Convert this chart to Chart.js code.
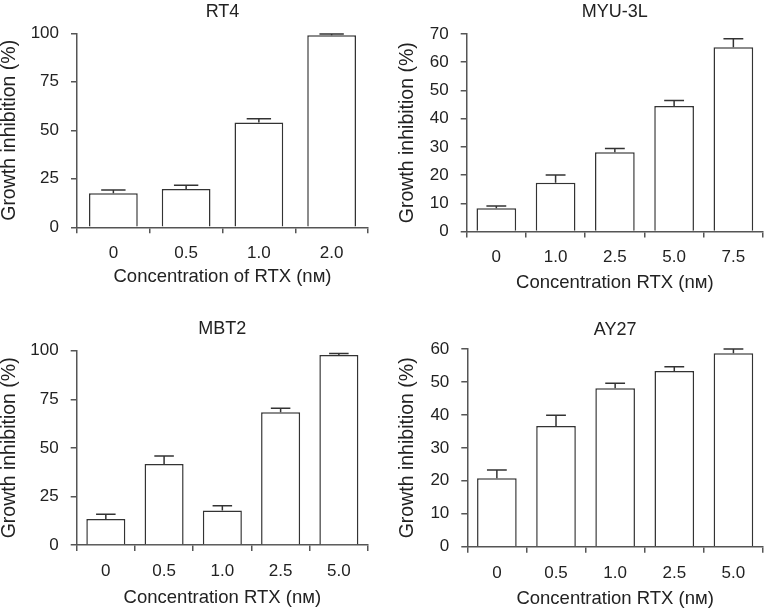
<!DOCTYPE html>
<html>
<head>
<meta charset="utf-8">
<script src="https://cdn.jsdelivr.net/npm/chart.js@4"></script>
<style>
  body { margin: 0; background: #fff; }
  #wrap { position: relative; width: 765px; height: 609px; overflow: hidden; }
  .panel { position: absolute; }
</style>
</head>
<body>
<div id="wrap">
  <div class="panel" style="left:0px;top:0px"><canvas id="c1" width="380" height="300"></canvas></div>
  <div class="panel" style="left:390px;top:0px"><canvas id="c2" width="375" height="300"></canvas></div>
  <div class="panel" style="left:0px;top:300px"><canvas id="c3" width="380" height="309"></canvas></div>
  <div class="panel" style="left:390px;top:300px"><canvas id="c4" width="375" height="309"></canvas></div>
</div>
<script>
// RT4
const rt4Labels = ['0', '0.5', '1.0', '2.0'];
const rt4Values = [17.5, 19.8, 54.0, 99.0];
const rt4Errors = [1.7, 1.9, 2.0, 0.6];

// MYU-3L
const myuLabels = ['0', '1.0', '2.5', '5.0', '7.5'];
const myuValues = [8.2, 17.3, 28.1, 44.5, 65.3];
const myuErrors = [0.8, 2.7, 1.3, 1.9, 3.0];

// MBT2
const mbtLabels = ['0', '0.5', '1.0', '2.5', '5.0'];
const mbtValues = [13.4, 41.7, 17.7, 68.3, 97.8];
const mbtErrors = [2.4, 4.1, 2.5, 2.1, 0.7];

// AY27
const ayLabels = ['0', '0.5', '1.0', '2.5', '5.0'];
const ayValues = [20.8, 36.6, 48.1, 53.3, 58.7];
const ayErrors = [2.5, 3.3, 1.5, 1.3, 1.3];

const yTitle = 'Growth inhibition (%)';
const FONT = "'Liberation Sans', Arial, Helvetica, sans-serif";
const INK = '#333';
const AXIS = '#555';

// upward-only error bars with a cap half as wide as the bar
const errorBars = {
    id: 'errorBars',
    afterDatasetsDraw(chart) {
        const ctx = chart.ctx;
        const yScale = chart.scales.y;
        const ds = chart.data.datasets[0];
        const meta = chart.getDatasetMeta(0);
        ctx.save();
        ctx.strokeStyle = INK;
        ctx.lineWidth = 1.5;
        meta.data.forEach((bar, i) => {
            const err = ds.errors[i];
            if (!err) return;
            const yTop = yScale.getPixelForValue(ds.data[i] + err);
            const half = bar.width / 4;
            ctx.beginPath();
            ctx.moveTo(bar.x, bar.y);
            ctx.lineTo(bar.x, yTop);
            ctx.moveTo(bar.x - half, yTop);
            ctx.lineTo(bar.x + half, yTop);
            ctx.stroke();
        });
        ctx.restore();
    }
};

function makePanel(id, title, labels, values, errors, yMax, yStep, xTitle, lay) {
    return new Chart(document.getElementById(id), {
        type: 'bar',
        data: {
            labels: labels,
            datasets: [{
                data: values,
                errors: errors,
                backgroundColor: '#fff',
                borderColor: INK,
                borderWidth: 1.5,
                barPercentage: 0.67,
                categoryPercentage: 1
            }]
        },
        options: {
            responsive: false,
            animation: false,
            devicePixelRatio: 1,
            layout: { padding: { left: 0, right: lay.right, top: 0, bottom: 0 } },
            plugins: {
                legend: { display: false },
                tooltip: { enabled: false },
                title: {
                    display: true,
                    fullSize: false,   // centre over the plot area, not the canvas
                    text: title,
                    color: '#222',
                    font: { family: FONT, size: 18, weight: 'normal' },
                    padding: { top: lay.titleTop, bottom: lay.titleBottom }
                }
            },
            scales: {
                x: {
                    grid: { display: true, drawOnChartArea: false, drawTicks: true, tickLength: 6, color: AXIS, lineWidth: 1.5 },
                    border: { color: AXIS, width: 1.5 },
                    ticks: { color: '#222', font: { family: FONT, size: 17 }, padding: 10, maxRotation: 0 },
                    title: {
                        display: true, text: xTitle, color: '#222',
                        font: { family: FONT, size: 18.5, lineHeight: 1 },
                        padding: { top: 0, bottom: lay.xTitleBottom }
                    },
                    afterFit: s => { s.height = lay.xHeight; }
                },
                y: {
                    min: 0,
                    max: yMax,
                    grid: { display: true, drawOnChartArea: false, drawTicks: true, tickLength: 6, color: AXIS, lineWidth: 1.5 },
                    border: { color: AXIS, width: 1.5 },
                    ticks: { stepSize: yStep, color: '#222', font: { family: FONT, size: 17 }, padding: 12 },
                    title: {
                        display: true, text: yTitle, color: '#222',
                        font: { family: FONT, size: 19.5, lineHeight: 1 },
                        padding: { top: lay.yTitleTop, bottom: 0 }
                    },
                    afterFit: s => { s.width = lay.yWidth; }
                }
            }
        },
        plugins: [errorBars]
    });
}

makePanel('c1', 'RT4', rt4Labels, rt4Values, rt4Errors, 100, 25, 'Concentration of RTX (nᴍ)',
    { right: 12, titleTop: 1, titleBottom: 10.7, xHeight: 72.7, xTitleBottom: 13.75, yWidth: 77, yTitleTop: 0.25 });
makePanel('c2', 'MYU-3L', myuLabels, myuValues, myuErrors, 70, 10, 'Concentration RTX (nᴍ)',
    { right: 2, titleTop: 1.7, titleBottom: 10.7, xHeight: 68.5, xTitleBottom: 7.75, yWidth: 76.7, yTitleTop: 8.25 });
makePanel('c3', 'MBT2', mbtLabels, mbtValues, mbtErrors, 100, 25, 'Concentration RTX (nᴍ)',
    { right: 12, titleTop: 18.2, titleBottom: 10.9, xHeight: 64, xTitleBottom: 2.25, yWidth: 76.7, yTitleTop: 0 });
makePanel('c4', 'AY27', ayLabels, ayValues, ayErrors, 60, 10, 'Concentration RTX (nᴍ)',
    { right: 2, titleTop: 19.2, titleBottom: 8.2, xHeight: 62.3, xTitleBottom: 0.75, yWidth: 77.3, yTitleTop: 8.25 });
</script>
</body>
</html>
